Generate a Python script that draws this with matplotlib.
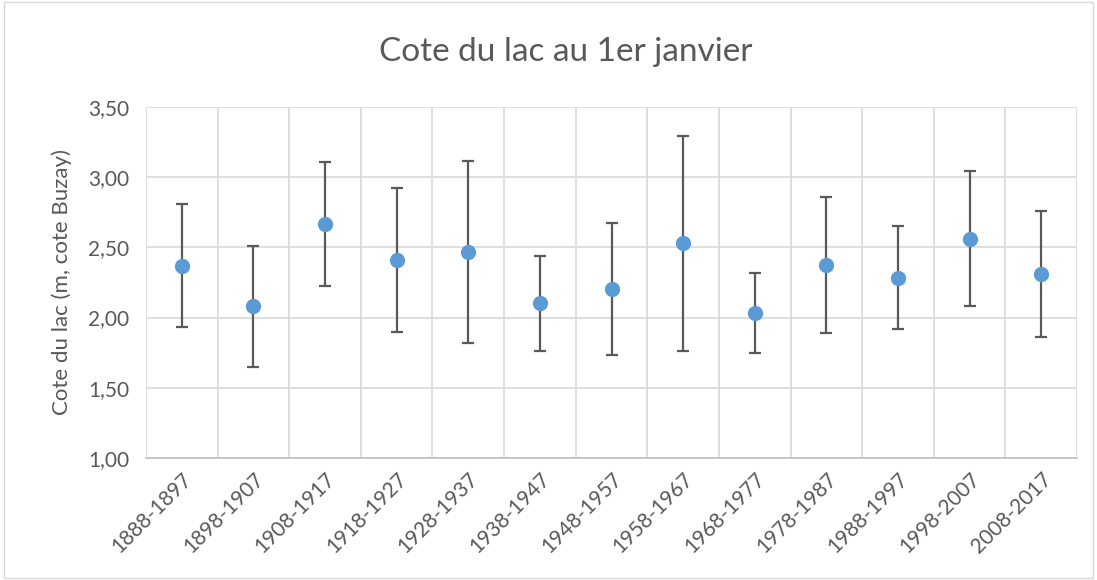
import matplotlib
matplotlib.use("Agg")
import matplotlib.pyplot as plt
from matplotlib.ticker import FixedLocator, FuncFormatter
from matplotlib.patches import Rectangle

periods = ["1888-1897", "1898-1907", "1908-1917", "1918-1927", "1928-1937",
           "1938-1947", "1948-1957", "1958-1967", "1968-1977", "1978-1987",
           "1988-1997", "1998-2007", "2008-2017"]
mean_level = [2.37, 2.08, 2.665, 2.41, 2.468, 2.102, 2.204, 2.53, 2.03, 2.375, 2.283, 2.563, 2.31]
std_level = [0.44, 0.433, 0.442, 0.516, 0.65, 0.34, 0.468, 0.767, 0.285, 0.483, 0.368, 0.48, 0.452]
y_ticks = [1.0, 1.5, 2.0, 2.5, 3.0, 3.5]

plt.rcParams['font.family'] = ['Lato', 'DejaVu Sans']

fig = plt.figure(figsize=(10.97, 5.80), dpi=100)
ax = fig.add_axes([146/1097, 1 - 457.7/580, (1077-146)/1097, (457.7-107.3)/580])

x = list(range(len(periods)))
ax.errorbar(x, mean_level, yerr=std_level, fmt='none', ecolor='#595959',
            elinewidth=1.6, capsize=4.5, capthick=1.6, zorder=3)
ax.plot(x, mean_level, 'o', color='#5b9bd5', markersize=11, zorder=4, markeredgewidth=0)

ax.set_xlim(-0.5, len(periods) - 0.5)
ax.set_ylim(1.0, 3.5)
ax.yaxis.set_major_locator(FixedLocator(y_ticks))
ax.yaxis.set_major_formatter(FuncFormatter(lambda v, p: f"{v:.2f}".replace('.', ',')))
ax.set_xticks(x)
ax.set_xticklabels(periods, rotation=45, ha='right', rotation_mode='anchor')
ax.set_xticks([i + 0.5 for i in range(-1, len(periods))], minor=True)

ax.grid(True, axis='y', which='major', color='#d9d9d9', linewidth=1.2)
ax.grid(True, axis='x', which='minor', color='#d9d9d9', linewidth=1.2)
ax.grid(False, axis='x', which='major')
ax.set_axisbelow(True)

for s in ['left', 'right', 'top']:
    ax.spines[s].set_visible(False)
ax.spines['bottom'].set_color('#bfbfbf')
ax.spines['bottom'].set_linewidth(1.2)

ax.tick_params(axis='both', which='both', length=0, labelsize=15, colors='#595959')
ax.tick_params(axis='x', pad=8)
ax.tick_params(axis='y', pad=12)

ax.set_ylabel("Cote du lac (m, cote Buzay)", fontsize=16, color='#595959', labelpad=12)
fig.text(0.5157, 1 - 52/580, "Cote du lac au 1er janvier", ha='center', va='center',
         fontsize=24, color='#595959')

fig.patches.append(Rectangle((0.004, 0.004), 0.992, 0.992, transform=fig.transFigure,
                             fill=False, edgecolor='#d9d9d9', linewidth=1))

fig.savefig("out.png", dpi=100, facecolor='white')
